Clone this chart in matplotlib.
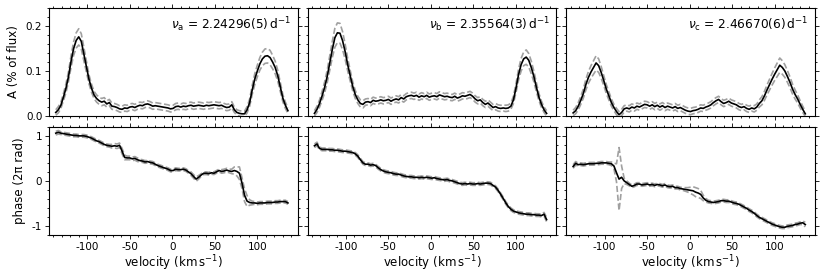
import numpy as np
import matplotlib
matplotlib.use("Agg")
import matplotlib.pyplot as plt
from matplotlib.ticker import MultipleLocator

# velocity bins (km/s), shared by every panel
vel = np.arange(-137, 137, 3)

# amplitude (% of flux) and its error, one list per frequency
amp_a = [0.008, 0.014, 0.024, 0.042, 0.062, 0.088, 0.122, 0.150, 0.168, 0.176,
         0.166, 0.138, 0.110, 0.082, 0.062, 0.047, 0.039, 0.034, 0.031, 0.033,
         0.027, 0.030, 0.022, 0.021, 0.019, 0.016, 0.015, 0.018, 0.017, 0.020,
         0.021, 0.019, 0.022, 0.024, 0.023, 0.026, 0.027, 0.025, 0.022, 0.023,
         0.022, 0.021, 0.020, 0.019, 0.018, 0.016, 0.017, 0.021, 0.022, 0.020,
         0.022, 0.021, 0.023, 0.024, 0.022, 0.023, 0.024, 0.023, 0.022, 0.024,
         0.023, 0.024, 0.025, 0.024, 0.023, 0.024, 0.021, 0.019, 0.020, 0.025,
         0.014, 0.008, 0.006, 0.005, 0.005, 0.014, 0.030, 0.058, 0.082, 0.100,
         0.116, 0.127, 0.133, 0.134, 0.130, 0.120, 0.108, 0.090, 0.065, 0.040,
         0.024, 0.012]
amp_a_err = [0.006, 0.007, 0.007, 0.008, 0.010, 0.011, 0.013, 0.015, 0.017, 0.018,
             0.017, 0.015, 0.012, 0.010, 0.009, 0.008, 0.008, 0.008, 0.008, 0.008,
             0.007, 0.007, 0.007, 0.007, 0.007, 0.007, 0.007, 0.007, 0.007, 0.007,
             0.007, 0.007, 0.007, 0.007, 0.007, 0.007, 0.007, 0.007, 0.007, 0.007,
             0.007, 0.007, 0.007, 0.007, 0.007, 0.007, 0.007, 0.007, 0.007, 0.007,
             0.007, 0.007, 0.007, 0.007, 0.007, 0.007, 0.007, 0.007, 0.007, 0.007,
             0.007, 0.007, 0.007, 0.007, 0.007, 0.007, 0.007, 0.007, 0.007, 0.007,
             0.006, 0.006, 0.006, 0.006, 0.006, 0.007, 0.008, 0.010, 0.012, 0.013,
             0.014, 0.015, 0.016, 0.016, 0.016, 0.015, 0.014, 0.012, 0.010, 0.008,
             0.007, 0.006]

amp_b = [0.006, 0.015, 0.028, 0.045, 0.064, 0.088, 0.118, 0.148, 0.174, 0.185,
         0.184, 0.168, 0.144, 0.115, 0.090, 0.066, 0.048, 0.036, 0.028, 0.026,
         0.031, 0.032, 0.030, 0.035, 0.033, 0.034, 0.036, 0.034, 0.035, 0.037,
         0.033, 0.036, 0.038, 0.036, 0.041, 0.038, 0.043, 0.045, 0.046, 0.044,
         0.046, 0.042, 0.045, 0.043, 0.046, 0.042, 0.044, 0.045, 0.043, 0.047,
         0.045, 0.043, 0.044, 0.042, 0.041, 0.044, 0.040, 0.042, 0.045, 0.044,
         0.046, 0.048, 0.044, 0.038, 0.034, 0.036, 0.030, 0.026, 0.029, 0.024,
         0.019, 0.021, 0.018, 0.017, 0.018, 0.017, 0.018, 0.022, 0.036, 0.062,
         0.092, 0.114, 0.127, 0.131, 0.124, 0.108, 0.088, 0.064, 0.042, 0.026,
         0.014, 0.006]
amp_b_err = [0.006, 0.007, 0.008, 0.010, 0.012, 0.014, 0.016, 0.018, 0.021, 0.022,
             0.022, 0.020, 0.017, 0.014, 0.012, 0.010, 0.009, 0.008, 0.008, 0.008,
             0.007, 0.007, 0.007, 0.007, 0.007, 0.007, 0.007, 0.007, 0.007, 0.007,
             0.007, 0.007, 0.007, 0.007, 0.007, 0.007, 0.007, 0.007, 0.007, 0.007,
             0.007, 0.007, 0.007, 0.007, 0.007, 0.007, 0.007, 0.007, 0.007, 0.007,
             0.007, 0.007, 0.007, 0.007, 0.007, 0.007, 0.007, 0.007, 0.007, 0.007,
             0.007, 0.007, 0.007, 0.007, 0.007, 0.007, 0.007, 0.007, 0.007, 0.007,
             0.007, 0.007, 0.007, 0.007, 0.007, 0.007, 0.007, 0.007, 0.008, 0.010,
             0.012, 0.014, 0.015, 0.016, 0.015, 0.014, 0.012, 0.010, 0.008, 0.007,
             0.006, 0.006]

amp_c = [0.007, 0.012, 0.022, 0.035, 0.050, 0.070, 0.086, 0.098, 0.108, 0.118,
         0.112, 0.097, 0.079, 0.060, 0.045, 0.030, 0.019, 0.010, 0.003, 0.008,
         0.016, 0.018, 0.016, 0.020, 0.018, 0.022, 0.020, 0.023, 0.026, 0.025,
         0.022, 0.025, 0.021, 0.024, 0.020, 0.023, 0.019, 0.022, 0.020, 0.018,
         0.021, 0.017, 0.019, 0.016, 0.013, 0.011, 0.010, 0.012, 0.013, 0.015,
         0.018, 0.017, 0.020, 0.022, 0.025, 0.030, 0.034, 0.037, 0.032, 0.028,
         0.030, 0.033, 0.029, 0.027, 0.025, 0.021, 0.019, 0.021, 0.017, 0.015,
         0.018, 0.016, 0.020, 0.028, 0.034, 0.045, 0.058, 0.070, 0.082, 0.093,
         0.103, 0.113, 0.108, 0.100, 0.088, 0.075, 0.060, 0.048, 0.038, 0.026,
         0.015, 0.005]
amp_c_err = [0.006, 0.007, 0.008, 0.009, 0.010, 0.012, 0.013, 0.014, 0.015, 0.016,
             0.015, 0.013, 0.011, 0.010, 0.009, 0.008, 0.007, 0.007, 0.007, 0.007,
             0.007, 0.007, 0.007, 0.007, 0.007, 0.007, 0.007, 0.007, 0.007, 0.007,
             0.007, 0.007, 0.007, 0.007, 0.007, 0.007, 0.007, 0.007, 0.007, 0.007,
             0.007, 0.007, 0.007, 0.007, 0.007, 0.007, 0.007, 0.007, 0.007, 0.007,
             0.007, 0.007, 0.007, 0.007, 0.007, 0.007, 0.007, 0.007, 0.007, 0.007,
             0.007, 0.007, 0.007, 0.007, 0.007, 0.007, 0.007, 0.007, 0.007, 0.007,
             0.007, 0.007, 0.007, 0.008, 0.009, 0.010, 0.011, 0.012, 0.013, 0.014,
             0.015, 0.016, 0.015, 0.014, 0.013, 0.012, 0.011, 0.010, 0.009, 0.008,
             0.007, 0.006]

# phase (units of 2 pi rad) and its error
phase_a = [1.06, 1.08, 1.06, 1.05, 1.04, 1.03, 1.02, 1.01, 1.01, 1.00,
           1.00, 1.00, 0.99, 0.97, 0.95, 0.92, 0.89, 0.87, 0.84, 0.81,
           0.79, 0.78, 0.77, 0.78, 0.77, 0.79, 0.66, 0.52, 0.51, 0.51,
           0.49, 0.50, 0.47, 0.45, 0.44, 0.42, 0.43, 0.41, 0.40, 0.37,
           0.34, 0.32, 0.30, 0.28, 0.26, 0.23, 0.23, 0.26, 0.25, 0.25,
           0.26, 0.24, 0.20, 0.16, 0.10, 0.04, 0.08, 0.13, 0.17, 0.17,
           0.16, 0.18, 0.17, 0.20, 0.23, 0.21, 0.22, 0.24, 0.22, 0.21,
           0.23, 0.21, 0.17, -0.05, -0.32, -0.45, -0.48, -0.49, -0.49, -0.50,
           -0.49, -0.49, -0.49, -0.48, -0.48, -0.48, -0.47, -0.47, -0.46, -0.46,
           -0.46, -0.49]
phase_a_err = [0.04, 0.04, 0.03, 0.03, 0.03, 0.03, 0.03, 0.03, 0.03, 0.03,
               0.03, 0.03, 0.03, 0.03, 0.03, 0.03, 0.03, 0.03, 0.03, 0.03,
               0.03, 0.03, 0.04, 0.05, 0.05, 0.05, 0.06, 0.05, 0.04, 0.04,
               0.04, 0.04, 0.04, 0.03, 0.03, 0.03, 0.03, 0.03, 0.03, 0.03,
               0.03, 0.03, 0.03, 0.03, 0.03, 0.03, 0.03, 0.03, 0.03, 0.03,
               0.03, 0.03, 0.03, 0.04, 0.04, 0.05, 0.04, 0.03, 0.03, 0.03,
               0.03, 0.03, 0.03, 0.03, 0.03, 0.04, 0.04, 0.04, 0.04, 0.05,
               0.08, 0.10, 0.14, 0.12, 0.14, 0.12, 0.06, 0.04, 0.03, 0.03,
               0.03, 0.03, 0.03, 0.03, 0.03, 0.03, 0.03, 0.03, 0.03, 0.03,
               0.03, 0.03]

phase_b = [0.78, 0.82, 0.72, 0.70, 0.70, 0.70, 0.69, 0.69, 0.68, 0.68,
           0.67, 0.66, 0.66, 0.65, 0.64, 0.63, 0.60, 0.55, 0.47, 0.40,
           0.37, 0.37, 0.35, 0.36, 0.34, 0.29, 0.25, 0.22, 0.20, 0.19,
           0.18, 0.16, 0.15, 0.15, 0.13, 0.11, 0.10, 0.09, 0.09, 0.08,
           0.08, 0.07, 0.08, 0.07, 0.08, 0.07, 0.06, 0.07, 0.05, 0.04,
           0.03, 0.02, 0.03, 0.01, 0.00, -0.02, -0.04, -0.06, -0.07, -0.06,
           -0.07, -0.06, -0.07, -0.07, -0.06, -0.07, -0.06, -0.05, -0.05, -0.06,
           -0.10, -0.14, -0.21, -0.30, -0.39, -0.49, -0.57, -0.63, -0.67, -0.69,
           -0.71, -0.72, -0.73, -0.74, -0.74, -0.75, -0.75, -0.76, -0.76, -0.77,
           -0.74, -0.86]
phase_b_err = [0.04, 0.04, 0.03, 0.03, 0.03, 0.03, 0.03, 0.03, 0.03, 0.03,
               0.03, 0.03, 0.03, 0.03, 0.03, 0.03, 0.03, 0.03, 0.03, 0.03,
               0.03, 0.03, 0.03, 0.03, 0.03, 0.03, 0.03, 0.03, 0.03, 0.03,
               0.03, 0.03, 0.03, 0.03, 0.03, 0.03, 0.03, 0.03, 0.03, 0.03,
               0.03, 0.03, 0.03, 0.03, 0.03, 0.03, 0.03, 0.03, 0.03, 0.03,
               0.03, 0.03, 0.03, 0.03, 0.03, 0.03, 0.03, 0.03, 0.03, 0.03,
               0.03, 0.03, 0.03, 0.03, 0.03, 0.03, 0.03, 0.03, 0.03, 0.03,
               0.03, 0.03, 0.03, 0.03, 0.03, 0.03, 0.03, 0.03, 0.03, 0.03,
               0.03, 0.03, 0.03, 0.03, 0.03, 0.03, 0.03, 0.03, 0.03, 0.03,
               0.04, 0.05]

phase_c = [0.32, 0.39, 0.36, 0.37, 0.36, 0.37, 0.38, 0.38, 0.38, 0.39,
           0.39, 0.40, 0.40, 0.40, 0.39, 0.38, 0.33, 0.18, 0.04, 0.08,
           0.00, -0.04, -0.08, -0.12, -0.10, -0.07, -0.07, -0.09, -0.08, -0.07,
           -0.09, -0.08, -0.10, -0.08, -0.09, -0.11, -0.09, -0.12, -0.13, -0.12,
           -0.15, -0.15, -0.17, -0.18, -0.19, -0.20, -0.21, -0.22, -0.25, -0.27,
           -0.30, -0.38, -0.43, -0.46, -0.47, -0.48, -0.47, -0.46, -0.44, -0.44,
           -0.45, -0.45, -0.47, -0.49, -0.50, -0.52, -0.55, -0.58, -0.61, -0.65,
           -0.68, -0.72, -0.77, -0.81, -0.84, -0.87, -0.90, -0.93, -0.96, -0.98,
           -1.00, -1.02, -1.03, -1.03, -1.01, -1.00, -0.99, -0.97, -0.96, -0.94,
           -0.93, -0.97]
phase_c_err = [0.04, 0.04, 0.03, 0.03, 0.03, 0.03, 0.03, 0.03, 0.03, 0.03,
               0.03, 0.03, 0.03, 0.03, 0.03, 0.04, 0.06, 0.20, 0.70, 0.25,
               0.06, 0.04, 0.03, 0.03, 0.03, 0.03, 0.03, 0.03, 0.03, 0.03,
               0.03, 0.03, 0.03, 0.03, 0.03, 0.03, 0.03, 0.03, 0.03, 0.03,
               0.03, 0.03, 0.03, 0.03, 0.04, 0.05, 0.07, 0.09, 0.10, 0.10,
               0.09, 0.06, 0.04, 0.03, 0.03, 0.03, 0.03, 0.03, 0.03, 0.03,
               0.03, 0.03, 0.03, 0.03, 0.03, 0.03, 0.03, 0.03, 0.03, 0.03,
               0.03, 0.03, 0.03, 0.03, 0.03, 0.03, 0.03, 0.03, 0.03, 0.03,
               0.03, 0.03, 0.03, 0.03, 0.03, 0.03, 0.03, 0.03, 0.03, 0.03,
               0.04, 0.05]

freq_labels = [r"$\nu_\mathrm{a}$ = 2.24296(5)$\,\mathrm{d}^{-1}$",
               r"$\nu_\mathrm{b}$ = 2.35564(3)$\,\mathrm{d}^{-1}$",
               r"$\nu_\mathrm{c}$ = 2.46670(6)$\,\mathrm{d}^{-1}$"]

amps = [(amp_a, amp_a_err), (amp_b, amp_b_err), (amp_c, amp_c_err)]
phases = [(phase_a, phase_a_err), (phase_b, phase_b_err), (phase_c, phase_c_err)]

plt.rcParams["axes.unicode_minus"] = False
plt.rcParams["font.size"] = 8.5

fig, axes = plt.subplots(2, 3, figsize=(8.3, 2.77), dpi=100, sharex=True, sharey="row")
fig.subplots_adjust(left=0.059, right=0.982, top=0.971, bottom=0.152,
                    wspace=0.04, hspace=0.1)

GREY = "#a0a0a0"


def draw(ax, y, err):
    y = np.asarray(y)
    err = np.asarray(err)
    ax.plot(vel, y + err, "--", color=GREY, lw=1.2)
    ax.plot(vel, y - err, "--", color=GREY, lw=1.2)
    ax.plot(vel, y, "-", color="k", lw=1.2)


for i in range(3):
    top, bot = axes[0, i], axes[1, i]
    draw(top, *amps[i])
    draw(bot, *phases[i])
    top.text(0.975, 0.935, freq_labels[i], transform=top.transAxes,
             ha="right", va="top", fontsize=8.7)
    bot.set_xlabel(r"velocity (km$\,$s$^{-1}$)", fontsize=8.5, labelpad=1.5)

for ax in axes.flat:
    ax.set_xlim(-145, 147.5)
    ax.xaxis.set_major_locator(MultipleLocator(50))
    ax.xaxis.set_minor_locator(MultipleLocator(10))
    ax.tick_params(which="both", direction="out", top=True, right=True,
                   labelsize=7.5, width=0.6, pad=2)
    ax.tick_params(which="major", length=2.8)
    ax.tick_params(which="minor", length=1.6)
    for s in ax.spines.values():
        s.set_linewidth(0.8)

axes[0, 0].set_ylim(0, 0.24)
axes[0, 0].yaxis.set_major_locator(MultipleLocator(0.1))
axes[0, 0].yaxis.set_minor_locator(MultipleLocator(0.02))
axes[0, 0].set_ylabel("A (% of flux)", fontsize=8.5)

axes[1, 0].set_ylim(-1.2, 1.2)
axes[1, 0].yaxis.set_major_locator(MultipleLocator(1))
axes[1, 0].yaxis.set_minor_locator(MultipleLocator(0.2))
axes[1, 0].set_ylabel("phase (2π rad)", fontsize=8.5)

fig.savefig("out.png", dpi=100)
